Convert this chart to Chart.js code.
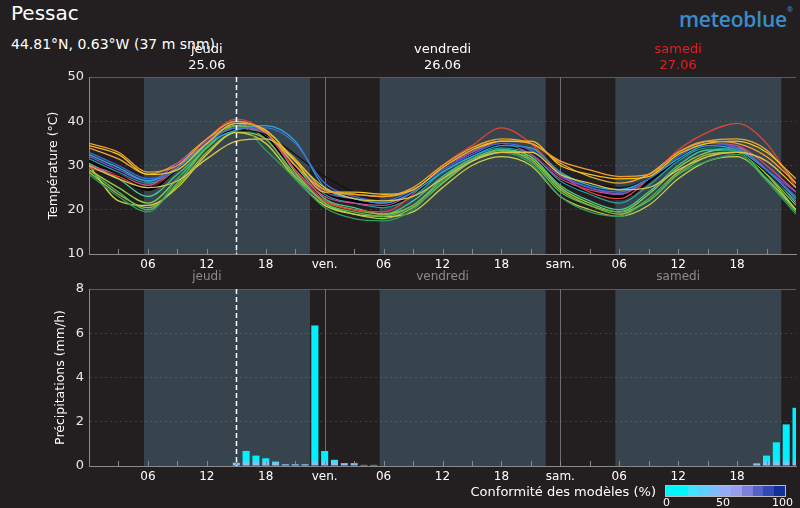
<!DOCTYPE html>
<html>
<head>
<meta charset="utf-8">
<script src="https://cdn.jsdelivr.net/npm/chart.js@4.4.1/dist/chart.umd.min.js"></script>
<style>
  body { margin: 0; background: #231f20; width: 800px; height: 508px; overflow: hidden;
         font-family: "DejaVu Sans", sans-serif; color: #fff; position: relative; }
  .t { position: absolute; white-space: nowrap; }
  canvas { position: absolute; left: 0; }
  #scale { position: absolute; left: 665px; top: 485px; width: 121px; height: 12px;
           display: flex; border: 1px solid #bbb; box-sizing: border-box; }
  #scale div { flex: 1; }
</style>
</head>
<body>
<div class="t" style="left:11px;top:1px;font-size:20px">Pessac</div>
<div class="t" style="left:11px;top:36px;font-size:14px">44.81°N, 0.63°W (37 m snm)</div>
<div class="t" style="left:679px;top:5px;font-size:21px;color:#3a8ccb;font-family:'Open Sans';font-weight:600;letter-spacing:-0.2px">meteoblue<span style="font-size:7px;vertical-align:top">®</span></div>

<canvas id="temp" width="800" height="235" style="top:40px"></canvas>
<canvas id="rain" width="800" height="220" style="top:268px"></canvas>

<div class="t" style="right:144px;top:484px;font-size:13px">Conformité des modèles (%)</div>
<div id="scale"></div>
<div class="t" style="left:663px;top:496px;font-size:11px">0</div>
<div class="t" style="left:716px;top:496px;font-size:11px">50</div>
<div class="t" style="left:772px;top:496px;font-size:11px">100</div>

<script>
// time axis: hours since thursday 00:00
const hours = [0, 3, 6, 9, 12, 15, 18, 21, 24, 27, 30, 33, 36, 39, 42, 45, 48, 51, 54, 57, 60, 63, 66, 69, 72];
const tickLabels = { 6: "06", 12: "12", 18: "18", 24: "ven.", 30: "06", 36: "12", 42: "18", 48: "sam.", 54: "06", 60: "12", 66: "18" };
const dayNames = ["jeudi", "vendredi", "samedi"];
const dayDates = ["25.06", "26.06", "27.06"];
const dayColors = ["#ffffff", "#ffffff", "#e32020"];
const sunrise = [5.6, 29.6, 53.6];
const sunset = [22.5, 46.5, 70.5];
const nowHour = 15;

// ensemble members (°C)
const memberColors = ["#f39c32", "#f0c419", "#d8c24a", "#3a6fd8", "#2fa8d8", "#111111", "#8a4fc8", "#d6458c",
                      "#e0453a", "#5cb85c", "#2e9e5e", "#c8d040", "#9fbf3b", "#22a0a0", "#48c890", "#8bd04a", "#e8a838"];
const members = [
  [35, 33, 28.5, 30, 36, 40, 37.5, 30, 24.5, 23.5, 23, 25, 30, 34, 36, 35, 31, 29, 27.5, 28, 33, 35.5, 35, 32, 26],
  [34.5, 32.5, 28, 29, 35, 39.5, 38, 31, 24, 24, 23.5, 24.5, 29.5, 33.5, 35.5, 35.5, 30, 28, 27, 27.5, 32.5, 35, 35.5, 33, 27],
  [30, 27, 25, 26.5, 31.5, 35.5, 36, 31, 25, 22.5, 22, 23, 27, 31, 33, 33, 28, 26, 24.5, 25, 29, 32, 33, 31, 25],
  [33, 30, 27, 29, 35, 38.5, 38.5, 35, 26, 23, 22, 24.5, 29, 32.5, 35, 33.5, 28, 25, 24, 27, 32, 35, 34, 29, 23],
  [32.5, 29.5, 26.5, 29.5, 35, 38, 39, 35.5, 25, 22.5, 21.5, 24, 28.5, 32, 34.5, 34, 28.5, 25.5, 24.5, 27, 31.5, 34.5, 33.5, 29, 22.5],
  [31, 28, 25, 29, 35, 38, 37, 32.5, 27.5, 24, 22, 24, 29, 32.5, 35, 33, 28, 26, 25, 27, 32, 34.5, 33.5, 28.5, 22.5],
  [32, 29, 26.5, 30.5, 35.5, 39.5, 37, 30, 24, 22.5, 21.5, 24, 29, 33, 35, 33, 27.5, 25, 23.5, 27, 32, 34.5, 34, 29, 24],
  [30, 28, 25.5, 30, 35, 38.5, 37, 29, 23, 21.5, 21, 24, 29.5, 33, 35, 32.5, 27, 24.5, 23.5, 27, 32, 35, 34.5, 30, 24],
  [29.5, 27.5, 25, 29.5, 36, 40.5, 37.5, 29, 22, 20, 19.5, 23.5, 30, 34.5, 38.5, 35, 28, 24, 22.5, 27, 33.5, 37.5, 39.5, 35, 25],
  [29, 24, 20, 26, 34, 39, 36, 28, 21.5, 19.5, 18.5, 21, 27, 31.5, 33.5, 31, 24, 21, 19.5, 22, 28, 32, 33, 27, 19.5],
  [28, 23, 19.5, 27, 34.5, 39.5, 33.5, 27, 20.5, 18, 17.5, 20, 26.5, 31, 33, 30.5, 23, 19.5, 18.5, 22.5, 28, 31, 32.5, 26.5, 19],
  [30, 22, 21, 25, 32.5, 37.5, 35, 27, 21, 19, 18.5, 19.5, 25, 30, 32, 30, 23, 20, 18.5, 21, 27, 31, 32, 27, 20],
  [28.5, 23.5, 20.5, 25.5, 33, 37.5, 36, 27.5, 22, 20, 19, 21, 26.5, 31, 33, 31.5, 24.5, 21, 19, 22.5, 28.5, 32.5, 33, 28, 21],
  [31.5, 28.5, 26, 29, 34.5, 38, 37.5, 31, 23.5, 21.5, 20.5, 23, 28.5, 32, 34, 32.5, 26.5, 23.5, 21.5, 25.5, 31, 34, 33.5, 28.5, 22],
  [30.5, 27, 23, 28, 34, 38.5, 37, 30, 22.5, 20.5, 19, 22, 27.5, 31.5, 33.5, 32, 25.5, 22, 20, 24, 30, 33.5, 33.5, 29, 21.5],
  [29, 25, 21.5, 27, 34, 39, 37.5, 28.5, 21.5, 19, 18, 20.5, 26, 31, 33.5, 32, 25, 21.5, 19.5, 23.5, 29.5, 33, 34, 28, 20],
  [34, 31.5, 28, 30.5, 36, 39, 37, 31.5, 24.5, 23.5, 23, 24.5, 29, 33, 35.5, 35, 30.5, 27.5, 26, 28, 33, 35.5, 36, 33.5, 26]
];
const meanTemp = [31.3, 28.3, 24.8, 29.7, 35.1, 38.5, 36.9, 29, 23.8, 21.8, 21.1, 24, 29, 32.4, 34.6, 32, 26.7, 24, 22.7, 26.7, 31.7, 34.2, 33.1, 28.3, 21.5];

// hourly precipitation (mm/h), hours 0..72
const precip = [
  0, 0, 0, 0, 0, 0, 0, 0, 0, 0, 0, 0, 0, 0, 0,
  0.15, 0.68, 0.47, 0.35, 0.2, 0.08, 0.08, 0.08, 6.35,
  0.68, 0.28, 0.13, 0.13, 0.05, 0.05,
  0, 0, 0, 0, 0, 0, 0, 0, 0, 0, 0, 0, 0, 0, 0, 0, 0, 0, 0, 0,
  0, 0, 0, 0, 0, 0, 0, 0, 0, 0, 0, 0, 0, 0, 0, 0, 0, 0,
  0.12, 0.47, 1.07, 1.88, 2.63
];

const conformColors = ["#00f6ff", "#00f6ff", "#3ee4ff", "#5cd0ff", "#7cbcff", "#96acf8", "#9a9cec", "#7a80dc", "#5462c8", "#3248b4", "#12309c"];
const scaleEl = document.getElementById("scale");
conformColors.forEach(c => { const d = document.createElement("div"); d.style.background = c; scaleEl.appendChild(d); });

Chart.defaults.font.family = "'DejaVu Sans', sans-serif";
Chart.defaults.animation = false;

const nightColor = "#231f20";
const dayColor = "#37444e";
const axisGrey = "#8a8a8a";

const meteoPlugin = {
  id: "meteo",
  beforeDraw(chart, args, o) {
    const { ctx, chartArea: a, scales: { x } } = chart;
    ctx.save();
    ctx.fillStyle = nightColor;
    ctx.fillRect(a.left, a.top, a.width, a.height);
    ctx.fillStyle = dayColor;
    for (let i = 0; i < sunrise.length; i++) {
      const x1 = Math.max(x.getPixelForValue(sunrise[i]), a.left);
      const x2 = Math.min(x.getPixelForValue(sunset[i]), a.right);
      ctx.fillRect(x1, a.top, x2 - x1, a.height);
    }
    // top frame line
    ctx.strokeStyle = "#5a5a5a";
    ctx.lineWidth = 1;
    ctx.beginPath();
    ctx.moveTo(a.left, a.top + 0.5);
    ctx.lineTo(a.right, a.top + 0.5);
    ctx.stroke();
    ctx.restore();
  },
  beforeDatasetsDraw(chart) {
    const { ctx, chartArea: a, scales: { x } } = chart;
    ctx.save();
    ctx.strokeStyle = "#6e6e6e";
    ctx.lineWidth = 1;
    [24, 48].forEach(h => {
      const px = Math.round(x.getPixelForValue(h)) + 0.5;
      ctx.beginPath();
      ctx.moveTo(px, a.top);
      ctx.lineTo(px, a.bottom);
      ctx.stroke();
    });
    ctx.restore();
  },
  afterDatasetsDraw(chart, args, o) {
    const { ctx, chartArea: a, scales: { x } } = chart;
    ctx.save();
    // inner 3-hour ticks
    ctx.strokeStyle = axisGrey;
    ctx.lineWidth = 1;
    for (let h = 3; h < 72; h += 3) {
      const px = Math.round(x.getPixelForValue(h)) + 0.5;
      ctx.beginPath();
      ctx.moveTo(px, a.bottom);
      ctx.lineTo(px, a.bottom - 5);
      ctx.stroke();
    }
    // current time
    const nx = Math.round(x.getPixelForValue(nowHour)) + 0.5;
    ctx.strokeStyle = "#ffffff";
    ctx.lineWidth = 1.5;
    ctx.setLineDash([5, 3]);
    ctx.beginPath();
    ctx.moveTo(nx, a.top);
    ctx.lineTo(nx, a.bottom);
    ctx.stroke();
    ctx.setLineDash([]);

    // y axis title
    ctx.translate(o.titleX, (a.top + a.bottom) / 2);
    ctx.rotate(-Math.PI / 2);
    ctx.fillStyle = "#ffffff";
    ctx.font = "12.5px 'DejaVu Sans'";
    ctx.textAlign = "center";
    ctx.textBaseline = "middle";
    ctx.fillText(o.title, 0, 0);
    ctx.restore();

    // day labels
    ctx.save();
    ctx.textAlign = "center";
    ctx.textBaseline = "middle";
    dayNames.forEach((name, i) => {
      const cx = x.getPixelForValue(12 + 24 * i);
      if (o.top) {
        ctx.font = "13px 'DejaVu Sans'";
        ctx.fillStyle = dayColors[i];
        ctx.fillText(name, cx, a.top - 27);
        ctx.fillText(dayDates[i], cx, a.top - 11);
      } else {
        ctx.font = "12px 'DejaVu Sans'";
        ctx.fillStyle = "#8a8a8a";
        ctx.fillText(name, cx, a.top - 12);
      }
    });
    ctx.restore();
  }
};

function xAxis(h) {
  return {
    type: "linear", min: 0, max: 72, offset: false,
    afterFit: s => { s.height = h; },
    ticks: { stepSize: 6, autoSkip: false, maxRotation: 0, color: "#ffffff", font: { size: 12 }, padding: 4,
             callback: v => tickLabels[v] || "" },
    grid: { display: false, drawTicks: false, offset: false },
    border: { display: true, color: axisGrey }
  };
}

function yAxis(min, max, step) {
  return {
    min: min, max: max,
    afterFit: s => { s.width = 89; },
    ticks: { stepSize: step, color: "#e8e8e8", font: { size: 13 }, padding: 5 },
    grid: { drawTicks: false, color: ctx => ctx.tick.value === min || ctx.tick.value === max ? "rgba(0,0,0,0)" : "rgba(255,255,255,0.13)" },
    border: { display: true, color: axisGrey, dash: [2, 3] }
  };
}

const tempSets = members.map((vals, i) => ({
  data: hours.map((h, k) => ({ x: h, y: vals[k] })),
  borderColor: memberColors[i],
  borderWidth: 1.3,
  pointRadius: 0,
  cubicInterpolationMode: "monotone"
}));
tempSets.push({
  data: hours.map((h, k) => ({ x: h, y: meanTemp[k] })),
  borderColor: "#000000", borderWidth: 5, pointRadius: 0, cubicInterpolationMode: "monotone"
});
tempSets.push({
  data: hours.map((h, k) => ({ x: h, y: meanTemp[k] })),
  borderColor: "#ffffff", borderWidth: 3, borderDash: [9, 7], pointRadius: 0, cubicInterpolationMode: "monotone"
});

new Chart(document.getElementById("temp"), {
  type: "line",
  data: { datasets: tempSets },
  options: {
    responsive: false,
    devicePixelRatio: 1,
    layout: { padding: { top: 37, right: 3, left: 0, bottom: 0 } },
    plugins: { legend: { display: false }, tooltip: { enabled: false },
               meteo: { top: true, title: "Température (°C)", titleX: 54 } },
    scales: { x: xAxis(21), y: yAxis(10, 50, 10) }
  },
  plugins: [meteoPlugin]
});

new Chart(document.getElementById("rain"), {
  type: "bar",
  data: {
    datasets: [{
      data: precip.map((v, h) => ({ x: h, y: v })),
      backgroundColor: ctx => {
        const a = ctx.chart.chartArea;
        if (!a) return "#00f0ff";
        const g = ctx.chart.ctx.createLinearGradient(0, a.bottom, 0, a.bottom - 7);
        g.addColorStop(0, "#b0b4f4");
        g.addColorStop(1, "#00f0ff");
        return g;
      },
      borderWidth: 0,
      categoryPercentage: 0.8,
      barPercentage: 0.9
    }]
  },
  options: {
    responsive: false,
    devicePixelRatio: 1,
    layout: { padding: { top: 21, right: 3, left: 0, bottom: 0 } },
    plugins: { legend: { display: false }, tooltip: { enabled: false },
               meteo: { top: false, title: "Précipitations (mm/h)", titleX: 61 } },
    scales: { x: xAxis(22), y: yAxis(0, 8, 2) }
  },
  plugins: [meteoPlugin]
});
</script>
</body>
</html>
